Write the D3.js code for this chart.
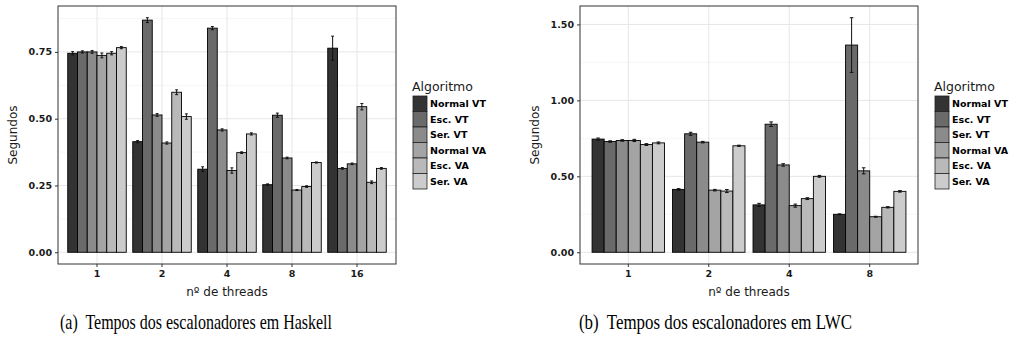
<!DOCTYPE html>
<html>
<head>
<meta charset="utf-8">
<script src="https://cdn.jsdelivr.net/npm/d3@7"></script>
<style>
html,body{margin:0;padding:0;background:#fff;}
svg{display:block;}
</style>
</head>
<body>
<svg id="chart" width="1011" height="347"></svg>
<script>
// ---- data ----
const series = ["Normal VT", "Esc. VT", "Ser. VT", "Normal VA", "Esc. VA", "Ser. VA"];
const seriesColors = ["#333333", "#6a6a6a", "#8b8b8b", "#a4a4a4", "#b9b9b9", "#cccccc"];

const hsCategories = ["1", "2", "4", "8", "16"];
const hsNormalVT = [0.745, 0.414, 0.311, 0.253, 0.764];
const hsEscVT    = [0.750, 0.869, 0.839, 0.513, 0.314];
const hsSerVT    = [0.750, 0.514, 0.458, 0.353, 0.331];
const hsNormalVA = [0.737, 0.409, 0.306, 0.233, 0.545];
const hsEscVA    = [0.745, 0.599, 0.373, 0.246, 0.262];
const hsSerVA    = [0.766, 0.508, 0.443, 0.336, 0.314];
const hsErrNormalVT = [0.006, 0.004, 0.009, 0.003, 0.045];
const hsErrEscVT    = [0.004, 0.009, 0.006, 0.008, 0.003];
const hsErrSerVT    = [0.005, 0.005, 0.004, 0.003, 0.003];
const hsErrNormalVA = [0.009, 0.004, 0.010, 0.002, 0.012];
const hsErrEscVA    = [0.006, 0.009, 0.003, 0.003, 0.005];
const hsErrSerVA    = [0.004, 0.010, 0.004, 0.002, 0.003];
const hsTicks = [0, 0.25, 0.5, 0.75];
const hsMinor = [0.125, 0.375, 0.625, 0.875];

const lwcCategories = ["1", "2", "4", "8"];
const lwcNormalVT = [0.745, 0.414, 0.312, 0.250];
const lwcEscVT    = [0.729, 0.780, 0.843, 1.364];
const lwcSerVT    = [0.736, 0.725, 0.575, 0.536];
const lwcNormalVA = [0.736, 0.409, 0.307, 0.234];
const lwcEscVA    = [0.709, 0.403, 0.353, 0.296];
const lwcSerVA    = [0.720, 0.701, 0.500, 0.401];
const lwcErrNormalVT = [0.007, 0.005, 0.010, 0.003];
const lwcErrEscVT    = [0.005, 0.010, 0.015, 0.180];
const lwcErrSerVT    = [0.005, 0.005, 0.008, 0.020];
const lwcErrNormalVA = [0.007, 0.005, 0.010, 0.003];
const lwcErrEscVA    = [0.006, 0.010, 0.006, 0.004];
const lwcErrSerVA    = [0.006, 0.004, 0.006, 0.005];
const lwcTicks = [0, 0.5, 1.0, 1.5];
const lwcMinor = [0.25, 0.75, 1.25];

const yTitle = "Segundos";
const xTitle = "nº de threads";
const legendTitle = "Algoritmo";
const captions = ["(a)  Tempos dos escalonadores em Haskell", "(b)  Tempos dos escalonadores em LWC"];

// ---- drawing ----
const svg = d3.select("#chart");
const FONT = "'DejaVu Sans', sans-serif";

function buildRows(cats, vals, errs) {
  const rows = [];
  cats.forEach((c, i) => {
    series.forEach((s, j) => {
      rows.push({cat: c, series: s, value: vals[j][i], err: errs[j][i]});
    });
  });
  return rows;
}

function panel(opts) {
  const {x0, x1, y0, y1, cats, rows, ticks, minor} = opts;
  const g = svg.append("g");
  const maxV = d3.max(rows, d => d.value + d.err);
  const y = d3.scaleLinear().domain([-0.05 * maxV, maxV * 1.05]).range([y1, y0]);
  const x = d3.scaleBand().domain(cats).range([x0, x1]).paddingInner(0.1).paddingOuter(0.15);
  const xs = d3.scaleBand().domain(series).range([0, x.bandwidth()]).padding(0);
  const color = d3.scaleOrdinal().domain(series).range(seriesColors);

  g.append("rect").attr("x", x0).attr("y", y0).attr("width", x1 - x0).attr("height", y1 - y0).attr("fill", "#fff");
  g.selectAll(".minor").data(minor).enter().append("line")
    .attr("x1", x0).attr("x2", x1).attr("y1", d => y(d)).attr("y2", d => y(d))
    .attr("stroke", "#f2f2f2").attr("stroke-width", 0.7);
  g.selectAll(".majory").data(ticks).enter().append("line")
    .attr("x1", x0).attr("x2", x1).attr("y1", d => y(d)).attr("y2", d => y(d))
    .attr("stroke", "#e6e6e6").attr("stroke-width", 1);
  g.selectAll(".majorx").data(cats).enter().append("line")
    .attr("y1", y0).attr("y2", y1).attr("x1", d => x(d) + x.bandwidth() / 2).attr("x2", d => x(d) + x.bandwidth() / 2)
    .attr("stroke", "#e6e6e6").attr("stroke-width", 1);

  g.selectAll(".bar").data(rows).enter().append("rect")
    .attr("x", d => x(d.cat) + xs(d.series))
    .attr("width", xs.bandwidth())
    .attr("y", d => y(d.value))
    .attr("height", d => y(0) - y(d.value))
    .attr("fill", d => color(d.series))
    .attr("stroke", "#000").attr("stroke-width", 0.9);

  const capW = xs.bandwidth() * 0.3;
  const eb = g.selectAll(".eb").data(rows).enter().append("g")
    .attr("transform", d => `translate(${x(d.cat) + xs(d.series) + xs.bandwidth() / 2},0)`);
  eb.append("line").attr("x1", 0).attr("x2", 0)
    .attr("y1", d => y(d.value - d.err)).attr("y2", d => y(d.value + d.err))
    .attr("stroke", "#111").attr("stroke-width", 1);
  eb.append("line").attr("x1", -capW / 2).attr("x2", capW / 2)
    .attr("y1", d => y(d.value + d.err)).attr("y2", d => y(d.value + d.err))
    .attr("stroke", "#111").attr("stroke-width", 1);
  eb.append("line").attr("x1", -capW / 2).attr("x2", capW / 2)
    .attr("y1", d => y(d.value - d.err)).attr("y2", d => y(d.value - d.err))
    .attr("stroke", "#111").attr("stroke-width", 1);

  g.append("rect").attr("x", x0).attr("y", y0).attr("width", x1 - x0).attr("height", y1 - y0)
    .attr("fill", "none").attr("stroke", "#333").attr("stroke-width", 1);

  const ya = g.append("g").attr("transform", `translate(${x0},0)`)
    .call(d3.axisLeft(y).tickValues(ticks).tickFormat(d3.format(".2f")).tickSize(3).tickPadding(3));
  ya.select(".domain").remove();
  ya.selectAll(".tick line").attr("stroke", "#333");
  ya.selectAll(".tick text").attr("fill", "#1a1a1a").attr("font-family", FONT)
    .attr("font-weight", "bold").attr("font-size", "9.5px");

  const xa = g.append("g").attr("transform", `translate(0,${y1})`)
    .call(d3.axisBottom(x).tickSize(3).tickPadding(3));
  xa.select(".domain").remove();
  xa.selectAll(".tick line").attr("stroke", "#333");
  xa.selectAll(".tick text").attr("fill", "#1a1a1a").attr("font-family", FONT)
    .attr("font-weight", "bold").attr("font-size", "9.5px");

  g.append("text").attr("x", (x0 + x1) / 2).attr("y", 296).attr("text-anchor", "middle")
    .attr("font-family", FONT).attr("font-size", "12px").attr("fill", "#1a1a1a").text(xTitle);
  g.append("text").attr("transform", `translate(${x0 - 41},${(y0 + y1) / 2}) rotate(-90)`)
    .attr("text-anchor", "middle")
    .attr("font-family", FONT).attr("font-size", "12px").attr("fill", "#1a1a1a").text(yTitle);

  const lx = x1 + 16;
  const lg = g.append("g");
  lg.append("text").attr("x", lx).attr("y", 90.5).attr("font-family", FONT).attr("font-size", "12.5px")
    .attr("fill", "#1a1a1a").text(legendTitle);
  const keyH = 15.5;
  const items = lg.selectAll(".li").data(series).enter().append("g")
    .attr("transform", (d, i) => `translate(${lx + 1},${96 + i * keyH})`);
  items.append("rect").attr("width", 14).attr("height", keyH)
    .attr("fill", d => color(d)).attr("stroke", "#222").attr("stroke-width", 0.8);
  items.append("text").attr("x", 17).attr("y", keyH / 2 + 3.5)
    .attr("font-family", FONT).attr("font-weight", "bold").attr("font-size", "9.5px")
    .attr("fill", "#000").text(d => d);
}

panel({
  x0: 58, x1: 396, y0: 6, y1: 264,
  cats: hsCategories,
  rows: buildRows(hsCategories,
    [hsNormalVT, hsEscVT, hsSerVT, hsNormalVA, hsEscVA, hsSerVA],
    [hsErrNormalVT, hsErrEscVT, hsErrSerVT, hsErrNormalVA, hsErrEscVA, hsErrSerVA]),
  ticks: hsTicks, minor: hsMinor
});
panel({
  x0: 580, x1: 918, y0: 6, y1: 264,
  cats: lwcCategories,
  rows: buildRows(lwcCategories,
    [lwcNormalVT, lwcEscVT, lwcSerVT, lwcNormalVA, lwcEscVA, lwcSerVA],
    [lwcErrNormalVT, lwcErrEscVT, lwcErrSerVT, lwcErrNormalVA, lwcErrEscVA, lwcErrSerVA]),
  ticks: lwcTicks, minor: lwcMinor
});

const capPos = [{x: 60, w: 272}, {x: 579, w: 273}];
svg.selectAll(".cap").data(captions).enter().append("text")
  .attr("x", (d, i) => capPos[i].x).attr("y", 329)
  .attr("font-family", "'Liberation Serif', 'Times New Roman', serif")
  .attr("font-size", "22px").attr("fill", "#000")
  .attr("textLength", (d, i) => capPos[i].w).attr("lengthAdjust", "spacingAndGlyphs")
  .attr("xml:space", "preserve").style("white-space", "pre")
  .text(d => d);
</script>
</body>
</html>
